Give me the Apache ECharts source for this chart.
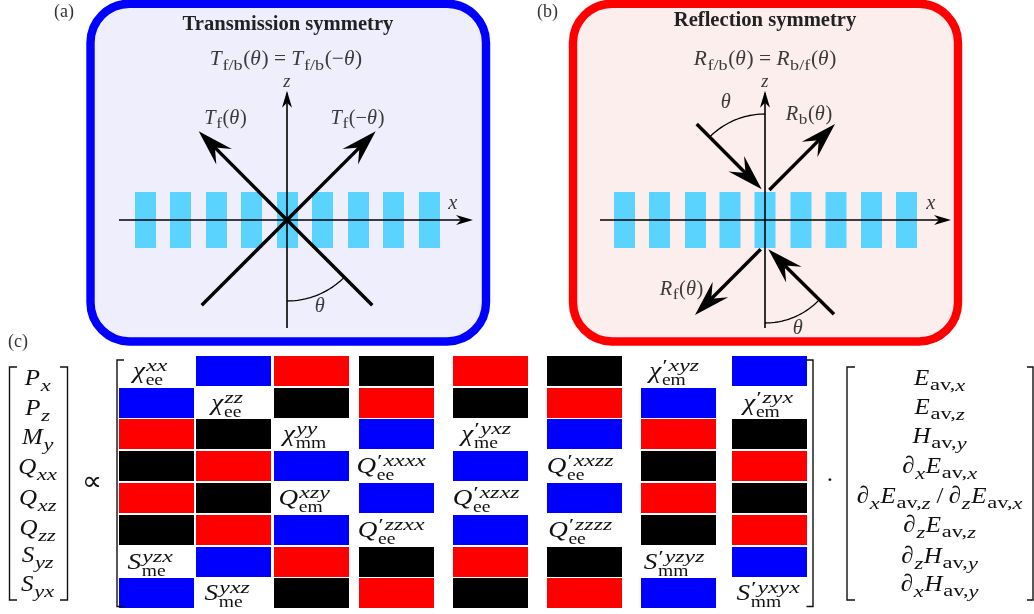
<!DOCTYPE html>
<html><head><meta charset="utf-8">
<style>html,body{margin:0;padding:0;background:#fff}#c{width:1034px;height:614px}</style>
<script src="https://cdn.jsdelivr.net/npm/echarts@6/dist/echarts.min.js"></script>
</head><body><div id="c"></div>
<script>
// ---------- content ----------
const panelTitles = ['Transmission symmetry', 'Reflection symmetry'];
const panelEquations = ['T_{f/b}(θ) = T_{f/b}(−θ)', 'R_{f/b}(θ) = R_{b/f}(θ)'];
const panelTags = ['(a)', '(b)', '(c)'];
const leftVector = ['P_{x}','P_{z}','M_{y}','Q_{xx}','Q_{xz}','Q_{zz}','S_{yz}','S_{yx}'];
const rightVector = ['E_{av,x}','E_{av,z}','H_{av,y}','∂_{x}E_{av,x}','∂_{x}E_{av,z}/∂_{z}E_{av,x}','∂_{z}E_{av,z}','∂_{z}H_{av,y}','∂_{x}H_{av,y}'];
const matrixRows = [
 ['χ_{ee}^{xx}','B','R','K','R','K',"χ_{em}^{′xyz}",'B'],
 ['B','χ_{ee}^{zz}','K','R','K','R','B',"χ_{em}^{′zyx}"],
 ['R','K','χ_{mm}^{yy}','B',"χ_{me}^{′yxz}",'B','R','K'],
 ['K','R','B',"Q_{ee}^{′xxxx}",'B',"Q_{ee}^{′xxzz}",'K','R'],
 ['R','K','Q_{em}^{xzy}','B',"Q_{ee}^{′xzxz}",'B','R','K'],
 ['K','R','B',"Q_{ee}^{′zzxx}",'B',"Q_{ee}^{′zzzz}",'K','R'],
 ['S_{me}^{yzx}','B','R','K','R','K',"S_{mm}^{′yzyz}",'B'],
 ['B','S_{me}^{yxz}','K','R','K','R','B',"S_{mm}^{′yxyx}"]
];
// ---------- layout (in the 1034 x 614 value space of the hidden axes) ----------
const colEdges = [[119,194],[196,271],[274,349],[359,434],[453,528],[547,622],[641,716],[732,807]];
const rowEdges = [[356,386],[388,418],[419,449],[451,481],[483,513],[515,545],[547,577],[578,608]];
const labelX = [151,228,305,392,487,581,675,769];
const leftBase = [387,417,446,476,507,537,564,593];
const rightBase = [387,416,445,475,505,534,565,593];
const gratingA = [135,170,206,241,277,312,348,383,419];
const gratingB = [614,649,685,719.5,754.5,790.5,825.5,861,896];
const colorMap = {B:'#0000ff',R:'#ff0000',K:'#000000'};
const PANEL = [
 {x0:90.5,x1:486,y0:3.7,y1:341.5,stroke:'#0000ff',fill:'#efeefd'},
 {x0:573,x1:958,y0:3.7,y1:341.5,stroke:'#ff0000',fill:'#fdeeee'}
];
const thickLines = [[287,220,201.7,305.3],[287,220,372.3,305.3]];
const arrows = [
 [287,220,198.7,131.3],[287,220,375.7,131.3],
 [696.7,124,761.7,189.3],[769.3,190,835,124],[760.7,249.3,695,315],[834,314.3,768.3,249.3]
];
const axisArrows = [[119,220,473,220],[287,328,287,90.7],[600,220,951,220],[765,328,765,90.7]];
const arcs = [[287,220,81,180,135],[765,192,78,0,-45],[765,248,75,180,135]];
const brackets = [[9.5,17,367,600],[67.5,60,367,600],[117,124,360,606.5],[813,806.5,360,606.5],[847,855,367,600],[1033,1027,367,600]];

const INK='#3a3a3a', DARK='#111111';
// typesetting presets: horizontal stretch of base / subscript / superscript runs, script ratio, script offsets
const STY={
 panel:{base:1.02,sub:1.2,sup:1.2,r:0.72,subY:0.2,supY:0.45},
 big:{base:1.04,sub:1.3,sup:1.3,r:0.72,subY:0.2,supY:0.45},
 cell:{base:1.18,sub:1.15,sup:1.4,r:0.74,subY:0.29,supY:0.35}
};
const texts = [
 [panelTags[0],54,18.5,18,'#333','plain'],[panelTags[1],537,18.5,18,'#333','plain'],[panelTags[2],8,348,18,'#333','plain'],
 [panelTitles[0],288,32,20,'#222','title'],[panelTitles[1],765,28,20,'#222','title'],
 [panelEquations[0],286,67,21,INK,'panel'],[panelEquations[1],765,67,21,INK,'panel'],
 ['z',287,88,18,INK,'panel'],['x',453,210,20,INK,'panel'],
 ['z',765,88,18,INK,'panel'],['x',931,210,20,INK,'panel'],
 ['T_{f}(θ)',225.5,125,20,INK,'panel'],['T_{f}(−θ)',357.5,125,20,INK,'panel'],['θ',320,313,20,INK,'panel'],
 ['θ',726,109,20,INK,'panel'],['R_{b}(θ)',809,121,20,INK,'panel'],['R_{f}(θ)',681.5,296,20,INK,'panel'],['θ',798,335,20,INK,'panel'],
 ['∝',91.5,492,27,DARK,'big'],['·',830,489,24,DARK,'big']
];
leftVector.forEach((s,i)=>texts.push([s,38,leftBase[i],24,DARK,'big']));
rightVector.forEach((s,i)=>texts.push([s,940,rightBase[i],24,DARK,'big']));
matrixRows.forEach((r,i)=>r.forEach((s,j)=>{ if(!colorMap[s]) texts.push([s,labelX[j],rowEdges[i][0]+24,23,DARK,'cell']); }));

// ---------- tiny math typesetter (produces real text runs) ----------
const FAM='"Liberation Serif"';
const mctx=document.createElement('canvas').getContext('2d');
const W=(t,f)=>{mctx.font=f;return mctx.measureText(t).width;};
const isIt=c=>/[A-Za-zχθ∂]/.test(c);
const fnt=(it,s)=>(it?'italic ':'')+s+'px '+FAM;
function runs(str,size,itFn,k){
  const out=[];let cur='',st=null;
  for(const c of str){const it=itFn(c);if(st!==null&&it!==st){out.push([cur,st]);cur='';}cur+=c;st=it;}
  if(cur)out.push([cur,st]);
  return out.map(([t,it])=>({t,f:fnt(it,size),k,w:W(t,fnt(it,size))*k}));
}
function typeset(src,size,S){
  const items=[];let x=0,i=0;
  const r=size*S.r;
  const grab=()=>{let e=src.indexOf('}',i);const s=src.slice(i+2,e);i=e+1;return s;};
  let base='';
  const flush=()=>{for(const b of runs(base,size,isIt,S.base)){const pad=b.t==='/'?size*0.22:0;x+=pad;items.push({t:b.t,f:b.f,k:b.k,x,y:0,s:size});x+=b.w+pad+(b.f.startsWith('italic')?size*0.03:0);}base='';};
  while(i<src.length){
    const c=src[i];
    if(c==='_'||c==='^'){
      flush();
      let sub=null,sup=null;
      while(src[i]==='_'||src[i]==='^'){ if(src[i]==='_')sub=grab(); else sup=grab(); }
      let w=0;
      if(sub!==null){let xx=x;for(const b of runs(sub,r,ch=>/[xyz]/.test(ch),S.sub)){items.push({t:b.t,f:b.f,k:b.k,x:xx,y:size*S.subY,s:r});xx+=b.w;}w=Math.max(w,xx-x);}
      if(sup!==null){let xx=x+size*0.02;for(const b of runs(sup,r,ch=>ch!=='′',S.sup)){items.push({t:b.t,f:b.f,k:b.k,x:xx,y:-size*S.supY,s:r});xx+=b.w+1;}w=Math.max(w,xx-x);}
      x+=w+size*0.03;
    } else {base+=c;i++;}
  }
  flush();
  return {items,width:x};
}
const textChildren=(d,api)=>{
  const [src,px,py,size,ink,kind]=d;
  const p=api.coord([px,py]);
  const mid=s=>0.3375*s;
  if(kind==='plain'||kind==='title'){
    const f=(kind==='title'?'bold ':'')+size+'px '+FAM;
    return [{type:'text',x:p[0],y:p[1]-mid(size),scaleX:kind==='title'?1.03:1,style:{text:src,x:0,y:0,font:f,fill:ink,align:kind==='title'?'center':'left',verticalAlign:'middle'}}];
  }
  const t=typeset(src,size,STY[kind]);
  return t.items.map(o=>({type:'text',x:p[0]-t.width/2+o.x,y:p[1]+o.y-mid(o.s),scaleX:o.k,style:{text:o.t,x:0,y:0,font:o.f,fill:ink,align:'left',verticalAlign:'middle'}}));
};
// ---------- geometry helpers ----------
const line=(api,a,b,c,d,w,col,cap)=>{const p=api.coord([a,b]),q=api.coord([c,d]);return {type:'line',shape:{x1:p[0],y1:p[1],x2:q[0],y2:q[1]},style:{stroke:col,lineWidth:w,lineCap:cap||'butt'}};};
function head(api,x0,y0,x1,y1,len,hw,notch,col){
  const p=api.coord([x1,y1]),o=api.coord([x0,y0]);
  let ux=p[0]-o[0],uy=p[1]-o[1];const L=Math.hypot(ux,uy);ux/=L;uy/=L;
  const nx=-uy,ny=ux;
  const pt=(a,b)=>[p[0]-ux*a+nx*b,p[1]-uy*a+ny*b];
  return {type:'polygon',shape:{points:[p,pt(len,hw),pt(notch,0),pt(len,-hw)]},style:{fill:col}};
}
const custom=(name,data,fn,z)=>({type:'custom',name,coordinateSystem:'cartesian2d',data:data.map((_,i)=>[i]),z,silent:true,clip:false,animation:false,
  renderItem:(params,api)=>fn(data[params.dataIndex],api,params.dataIndex)});

const cells=[];matrixRows.forEach((r,i)=>r.forEach((s,j)=>{if(colorMap[s])cells.push([j,i,s]);}));
const bars=[...gratingA,...gratingB];

const option={
 animation:false,backgroundColor:'#fff',
 grid:{left:0,right:0,top:0,bottom:0,containLabel:false},
 xAxis:{type:'value',min:0,max:1034,show:false},
 yAxis:{type:'value',min:0,max:614,inverse:true,show:false},
 series:[
  custom('panels',PANEL,(d,api)=>{const a=api.coord([d.x0,d.y0]),b=api.coord([d.x1,d.y1]);
    return {type:'rect',shape:{x:a[0],y:a[1],width:b[0]-a[0],height:b[1]-a[1],r:39},style:{fill:d.fill,stroke:d.stroke,lineWidth:8.4}};},1),
  custom('grating',bars,(x,api)=>{const a=api.coord([x,192]),b=api.coord([x+21,248]);
    return {type:'rect',shape:{x:a[0],y:a[1],width:b[0]-a[0],height:b[1]-a[1]},style:{fill:'#5bd3ff'}};},2),
  custom('axes',axisArrows,(d,api)=>({type:'group',children:[
     line(api,d[0],d[1],d[2]-(d[2]-d[0])*0.01,d[3]-(d[3]-d[1])*0.01,1.6,'#000'),
     head(api,d[0],d[1],d[2],d[3],17,5,12,'#000')]}),3),
  custom('rays',thickLines,(d,api)=>line(api,d[0],d[1],d[2],d[3],3.4,'#000'),4),
  custom('arrows',arrows,(d,api)=>{
     const L=Math.hypot(d[2]-d[0],d[3]-d[1]),f=1-22/L;
     return {type:'group',children:[line(api,d[0],d[1],d[0]+(d[2]-d[0])*f,d[1]+(d[3]-d[1])*f,3.4,'#000'),
       head(api,d[0],d[1],d[2],d[3],36,11,23,'#000')]};},4),
  custom('arcs',arcs,(d,api)=>{const pts=[];for(let k=0;k<=24;k++){const t=(d[3]+(d[4]-d[3])*k/24)*Math.PI/180;
       pts.push(api.coord([d[0]+d[2]*Math.sin(t),d[1]-d[2]*Math.cos(t)]));}
     return {type:'polyline',shape:{points:pts},style:{stroke:'#000',lineWidth:1.3,fill:null}};},4),
  custom('matrix',cells,(d,api)=>{const c=colEdges[d[0]],r=rowEdges[d[1]];const a=api.coord([c[0],r[0]]),b=api.coord([c[1],r[1]]);
     return {type:'rect',shape:{x:a[0],y:a[1],width:b[0]-a[0],height:b[1]-a[1]},style:{fill:colorMap[d[2]]}};},5),
  custom('brackets',brackets,(d,api)=>{const a=api.coord([d[0],d[2]]),b=api.coord([d[1],d[3]]);
     return {type:'polyline',shape:{points:[[b[0],a[1]],[a[0],a[1]],[a[0],b[1]],[b[0],b[1]]]},style:{stroke:'#111',lineWidth:1.4,fill:null}};},6),
  custom('text',texts,(d,api)=>({type:'group',children:textChildren(d,api)}),7)
 ]
};
echarts.init(document.getElementById('c'),null,{renderer:'canvas'}).setOption(option);
</script></body></html>
